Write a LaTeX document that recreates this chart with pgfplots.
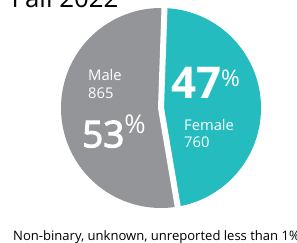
\documentclass[border=0pt]{standalone}
\usepackage{fontspec}
\setmainfont{Open Sans}
\usepackage{pgfplots}
\usepackage{pgfplotstable}
\pgfplotsset{compat=1.18}
\definecolor{malegray}{RGB}{147,149,152}
\definecolor{femteal}{RGB}{36,188,190}
\pgfplotstableread{
label value
Male 865
Female 760
}\piedata
\begin{document}
\begin{tikzpicture}
\pgfplotstablegetelem{0}{value}\of\piedata \let\malev\pgfplotsretval
\pgfplotstablegetelem{1}{value}\of\piedata \let\femv\pgfplotsretval
\pgfmathsetmacro{\startang}{88}
\pgfmathsetmacro{\femfrac}{\femv/(\malev+\femv)}
\pgfmathsetmacro{\femend}{\startang-360*\femfrac}
\pgfmathsetmacro{\maleend}{\femend+360}
\clip (0,0) rectangle (297bp,243bp);
\begin{axis}[at={(0,0)}, anchor=origin, x=1bp, y=1bp,
  xmin=0, xmax=297, ymin=0, ymax=243, enlargelimits=false,
  hide axis, clip=false]
\fill[femteal] (axis cs:161,135) -- ++(\startang:100bp) arc[start angle=\startang, end angle=\femend, radius=100bp] -- cycle;
\fill[malegray] (axis cs:161,135) -- ++(\startang:100bp) arc[start angle=\startang, end angle=\maleend, radius=100bp] -- cycle;
\draw[white, line width=6bp, line join=round] (axis cs:161,135) ++(\startang:103bp) -- (axis cs:161,135) -- ++(\femend:103bp);
% labels
\node[white, anchor=base west, inner sep=0, font=\fontsize{14.8}{17}\selectfont] at (axis cs:88,162.3) {Male};
\node[white, anchor=base west, inner sep=0, font=\fontsize{14.8}{17}\selectfont] at (axis cs:88,145) {865};
\node[white, anchor=base west, inner sep=0, font=\fontsize{37}{40}\selectfont] at (axis cs:82,95.7) {{\addfontfeature{FakeBold=3}53}\raisebox{14bp}{\fontsize{26}{28}\selectfont\%}};
\node[white, anchor=base west, inner sep=0, font=\fontsize{14.8}{17}\selectfont] at (axis cs:184,113) {Female};
\node[white, anchor=base west, inner sep=0, font=\fontsize{14.8}{17}\selectfont] at (axis cs:184,95.7) {760};
\node[white, anchor=base west, inner sep=0, font=\bfseries\fontsize{44}{46}\selectfont] at (axis cs:171,144.7) {47\raisebox{11.6bp}{\mdseries\fontsize{23}{25}\selectfont\%}};
\node[black, anchor=base west, inner sep=0, font=\fontsize{26}{30}\selectfont] at (axis cs:11.5,236) {Fall 2022};
\node[black, anchor=base west, inner sep=0, font=\fontsize{13.1}{15}\selectfont] at (axis cs:13,3) {Non-binary, unknown, unreported less than 1\%};
\end{axis}
\end{tikzpicture}
\end{document}
